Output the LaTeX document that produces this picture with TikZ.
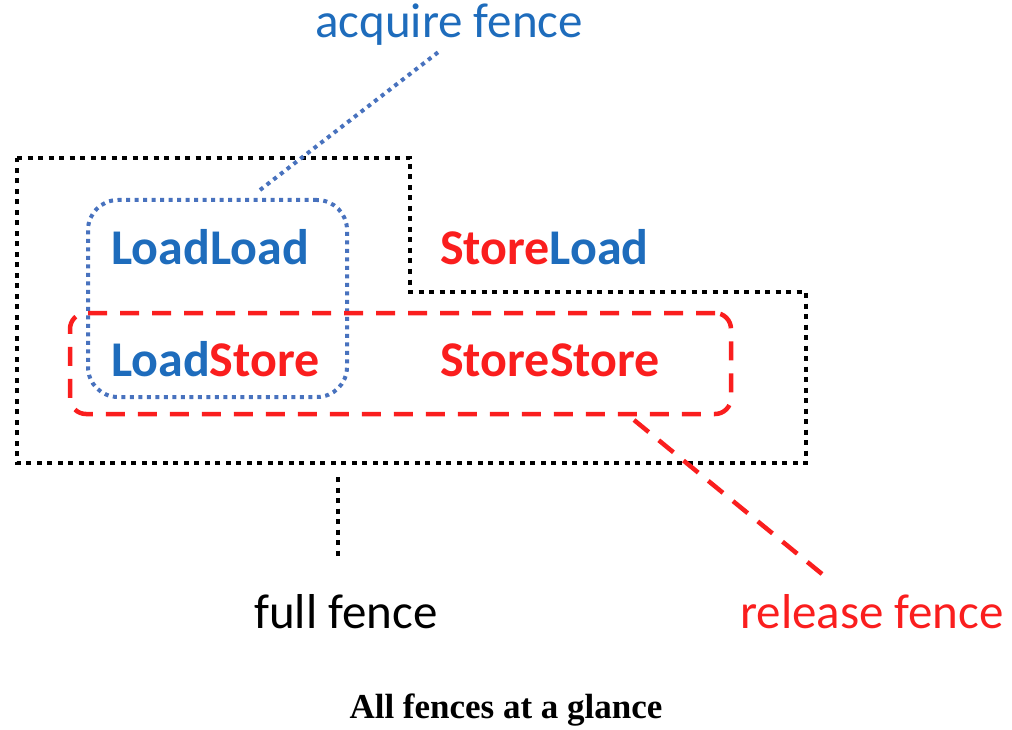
\documentclass[tikz,border=0pt]{standalone}
\usepackage{fontspec}
\setmainfont{Carlito}
\newfontfamily\capfont{Liberation Serif}
\definecolor{tblue}{RGB}{30,108,188}
\definecolor{lblue}{RGB}{72,114,190}
\definecolor{fred}{RGB}{250,30,30}
\begin{document}
\begin{tikzpicture}[x=1pt,y=-1pt,
  lbl/.style={inner sep=0pt,anchor=base west,font=\fontsize{49}{52}\selectfont},
  blbl/.style={inner sep=0pt,anchor=base west,font=\fontsize{50}{53}\selectfont\bfseries},
  fullline/.style={draw=black,line width=4.5pt,dash pattern=on 5pt off 5.5pt},
  acqline/.style={draw=lblue,line width=4pt,dash pattern=on 4pt off 4.5pt},
  relline/.style={draw=fred,line width=4.5pt,dash pattern=on 19pt off 13pt}]
\useasboundingbox (0,0) rectangle (1012,730);
% full fence outline
\draw[fullline] (17,158) -- (410,158) -- (410,292) -- (806,292) -- (806,463) -- (17,463) -- cycle;
% acquire box
\node[acqline,rounded corners=30pt,minimum width=259pt,minimum height=197pt,inner sep=0pt] (acqbox) at (217.5,298.5) {};
% release box
\node[relline,rounded corners=16pt,minimum width=661pt,minimum height=101pt,inner sep=0pt] (relbox) at (400.5,363.5) {};
% labels
\node[blbl,text=tblue] (ll) at (111,265) {LoadLoad};
\node[blbl] (sl) at (440,265) {\textcolor{fred}{Store}\textcolor{tblue}{Load}};
\node[blbl] (ls) at (111,376) {\textcolor{tblue}{Load}\textcolor{fred}{Store}};
\node[blbl,text=fred] (ss) at (440,376) {StoreStore};
% callout texts
\node[lbl,text=tblue] (acq) at (315,38) {acquire fence};
\node[lbl,text=black] (full) at (254,628) {full fence};
\node[lbl,text=fred] (rel) at (740,628) {release fence};
% connectors
\coordinate (acqA) at (260,190);
\coordinate (acqB) at (441,50);
\draw[acqline] (acqA) -- (acqB);
\coordinate (fullA) at (338,477);
\coordinate (fullB) at (338,556);
\draw[fullline] (fullA) -- (fullB);
\coordinate (relA) at (634,420);
\coordinate (relB) at (822,574);
\draw[relline] (relA) -- (relB);
% caption
\node[inner sep=0pt,anchor=base,font=\capfont\fontsize{35}{38}\selectfont\bfseries] (cap) at (506,718) {All fences at a glance};
\end{tikzpicture}
\end{document}
